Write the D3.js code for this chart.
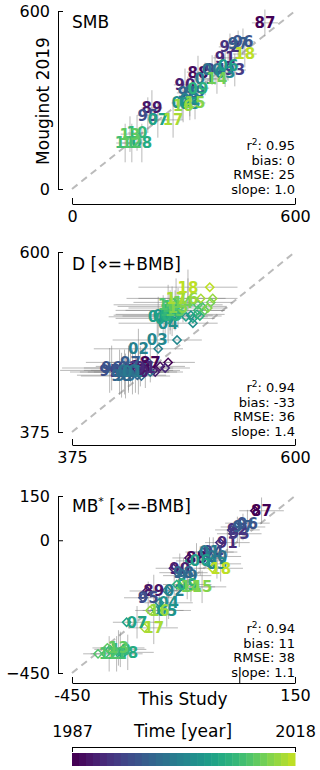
<!DOCTYPE html>
<html>
<head>
<meta charset="utf-8">
<script src="https://cdn.jsdelivr.net/npm/d3@7"></script>
<style>
body { margin: 0; background: #fff; }
svg { font-family: "DejaVu Sans", sans-serif; }
</style>
</head>
<body>
<div id="chart"></div>
<script>
// years shown as two-digit labels, coloured by time
var years = [1987, 1988, 1989, 1990, 1991, 1992, 1993, 1994, 1995, 1996, 1997,
        1998, 1999, 2000, 2001, 2002, 2003, 2004, 2005, 2006, 2007, 2008,
        2009, 2010, 2011, 2012, 2013, 2014, 2015, 2016, 2017, 2018];

// SMB: this study (x) vs Mouginot 2019 (y)
var smbX = [519, 339, 215, 304, 412, 425, 438, 385, 204, 460, 447, 312, 331, 377, 358, 317,
        412, 296, 317, 420, 231, 188, 339, 175, 143, 161, 156, 390, 331, 299, 272, 465];
var smbY = [560, 394, 273, 351, 442, 479, 401, 401, 249, 496, 489, 324, 327, 401, 371, 300,
        394, 290, 287, 415, 233, 155, 340, 189, 155, 155, 185, 371, 290, 280, 233, 455];
var smbXerr = [35, 30, 28, 30, 32, 30, 30, 30, 28, 32, 32, 30, 30, 30, 30, 28,
        30, 28, 28, 30, 26, 25, 30, 25, 24, 25, 25, 30, 28, 28, 27, 32];
var smbYerr = [45, 55, 60, 55, 50, 45, 55, 50, 60, 45, 45, 55, 55, 50, 55, 55,
        50, 55, 55, 50, 60, 65, 55, 60, 65, 65, 60, 50, 55, 55, 60, 45];

// D: discharge, diamonds offset by +BMB
var dX = [454, 444, 439, 442, 449, 423, 432, 428, 413, 415, 434, 425, 429, 432, 436, 442,
        461, 472, 467, 462, 469, 474, 476, 474, 476, 472, 479, 487, 482, 492, 480, 492];
var dY = [462, 457, 452, 450, 455, 450, 455, 450, 452, 455, 462, 446, 445, 452, 450, 479,
        490, 511, 521, 519, 517, 522, 520, 527, 532, 534, 527, 537, 530, 542, 542, 556];
var dBmb = [18, 20, 18, 17, 20, 15, 16, 15, 14, 15, 18, 16, 16, 18, 18, 20,
        20, 25, 28, 28, 28, 27, 28, 28, 30, 30, 30, 28, 30, 25, 25, 22];
var dXerr = [45, 45, 45, 45, 45, 50, 45, 45, 50, 50, 45, 45, 45, 45, 45, 45,
        45, 50, 50, 50, 50, 55, 50, 55, 55, 55, 50, 50, 50, 50, 50, 50];
var dYerr = [25, 25, 28, 28, 25, 28, 28, 28, 28, 28, 25, 28, 28, 28, 28, 25,
        25, 25, 25, 25, 25, 25, 25, 25, 25, 25, 25, 25, 25, 25, 25, 22];

// MB*: mass balance, diamonds offset by -BMB
var mbX = [60, -115, -230, -160, -32, -5, 0, -70, -245, 22, 10, -150, -140, -60, -80, -175,
        -60, -190, -195, -105, -275, -300, -140, -320, -330, -350, -325, -130, -100, -215, -230, -50];
var mbY = [100, -60, -172, -95, -8, 35, 22, -40, -195, 58, 45, -110, -120, -55, -40, -170,
        -80, -212, -238, -70, -278, -380, -150, -370, -385, -385, -365, -158, -158, -238, -297, -95];
var mbXerr = [60, 65, 65, 65, 60, 60, 60, 65, 65, 60, 60, 65, 65, 65, 65, 65,
        65, 65, 65, 65, 65, 70, 65, 70, 70, 70, 70, 65, 65, 65, 65, 60];
var mbYerr = [45, 50, 55, 50, 45, 45, 45, 50, 55, 45, 45, 50, 50, 50, 50, 50,
        50, 55, 55, 50, 55, 60, 50, 60, 60, 60, 60, 50, 55, 55, 55, 45];

var smbStats = ["0.95", "0", "25", "1.0"];
var dStats = ["0.94", "-33", "36", "1.4"];
var mbStats = ["0.94", "11", "38", "1.1"];

var W = 320, H = 770;
var LEFT = 72, RIGHT = 295, SPINE_X = 58;

var svg = d3.select("#chart").append("svg")
        .attr("width", W)
        .attr("height", H);

// colormap stops short of the bright yellow end, like the reference
var timeScale = d3.scaleLinear()
        .domain([years[0], years[years.length - 1]])
        .range([0, 0.9]);

function color(yr) {
        return d3.interpolateViridis(timeScale(yr));
}

function drawPanel(p) {

        var x = d3.scaleLinear().domain(p.dom).range([LEFT, RIGHT]);
        var y = d3.scaleLinear().domain(p.dom).range([p.bottom, p.top]);
        var g = svg.append("g");

        var pts = years.map(function(yr, i) {
                return {yr: yr, x: p.xs[i], y: p.ys[i], xe: p.xerr[i], ye: p.yerr[i],
                        b: p.bmb ? p.bmb[i] : 0};
        });

        // 1:1 line
        g.append("line")
                .attr("x1", x(p.dom[0])).attr("y1", y(p.dom[0]))
                .attr("x2", x(p.dom[1])).attr("y2", y(p.dom[1]))
                .style("stroke", "#bbb")
                .style("stroke-width", 2)
                .style("stroke-dasharray", "7,5");

        // error bars
        g.selectAll(".xerr").data(pts).enter().append("line")
                .attr("x1", (d) => x(d.x - d.xe)).attr("x2", (d) => x(d.x + d.xe))
                .attr("y1", (d) => y(d.y)).attr("y2", (d) => y(d.y))
                .style("stroke", "#808080").style("stroke-opacity", 0.55).style("stroke-width", 1);
        g.selectAll(".yerr").data(pts).enter().append("line")
                .attr("x1", (d) => x(d.x)).attr("x2", (d) => x(d.x))
                .attr("y1", (d) => y(d.y - d.ye)).attr("y2", (d) => y(d.y + d.ye))
                .style("stroke", "#808080").style("stroke-opacity", 0.55).style("stroke-width", 1);

        // BMB-shifted diamonds
        if (p.bmb) {
                g.selectAll(".dm").data(pts).enter().append("path")
                        .attr("d", d3.symbol(d3.symbolSquare, 34)())
                        .attr("transform", (d) => "translate(" + x(d.x + p.sign * d.b) + "," + y(d.y) + ") rotate(45)")
                        .style("fill", "none")
                        .style("stroke", (d) => color(d.yr))
                        .style("stroke-width", 1.5);
        }

        // year labels
        g.selectAll(".lbl").data(pts).enter().append("text")
                .attr("x", (d) => x(d.x))
                .attr("y", (d) => y(d.y))
                .attr("dy", "0.36em")
                .attr("text-anchor", "middle")
                .style("font-weight", "bold")
                .style("font-size", "15px")
                .style("fill", (d) => color(d.yr))
                .text((d) => String(d.yr).slice(2));

        // axes
        var ya = d3.axisLeft(y).tickValues(p.yticks).tickSize(-5).tickSizeOuter(0)
                .tickPadding(8).tickFormat(d3.format("d"));
        g.append("g")
                .attr("transform", "translate(" + SPINE_X + ",0)")
                .call(ya)
                .attr("font-size", 16)
                .attr("font-family", "DejaVu Sans");

        var xa = d3.axisBottom(x).tickValues(p.xticks).tickSize(-6).tickSizeOuter(0)
                .tickPadding(7).tickFormat(p.xfmt);
        g.append("g")
                .attr("transform", "translate(0," + p.xAxisY + ")")
                .call(xa)
                .attr("font-size", 16)
                .attr("font-family", "DejaVu Sans");

        // title
        var t = g.append("text")
                .attr("x", LEFT)
                .attr("y", p.titleY)
                .style("font-size", "17px");
        t.append("tspan").text(p.title[0]);
        if (p.title[1]) {
                t.append("tspan").attr("dy", -7).style("font-size", "11px").text(p.title[1]);
                t.append("tspan").attr("dy", 7).text(p.title[2]);
        } else {
                t.append("tspan").text(p.title[2]);
        }

        // stats
        var st = g.append("g").style("font-size", "13px").attr("text-anchor", "end");
        var r2 = st.append("text").attr("x", RIGHT).attr("y", p.statsY);
        r2.append("tspan").text("r");
        r2.append("tspan").attr("dy", -5).style("font-size", "9px").text("2");
        r2.append("tspan").attr("dy", 5).text(": " + p.stats[0]);
        st.append("text").attr("x", RIGHT).attr("y", p.statsY + 14.6).text("bias: " + p.stats[1]);
        st.append("text").attr("x", RIGHT).attr("y", p.statsY + 29.2).text("RMSE: " + p.stats[2]);
        st.append("text").attr("x", RIGHT).attr("y", p.statsY + 43.8).text("slope: " + p.stats[3]);
}

drawPanel({
        dom: [0, 600], top: 11, bottom: 189, xAxisY: 204,
        xs: smbX, ys: smbY, xerr: smbXerr, yerr: smbYerr,
        xticks: [0, 600], yticks: [0, 600], xfmt: d3.format("d"),
        title: ["SMB", "", ""], titleY: 28,
        stats: smbStats, statsY: 150
});

drawPanel({
        dom: [375, 600], top: 252, bottom: 432, xAxisY: 445,
        xs: dX, ys: dY, xerr: dXerr, yerr: dYerr, bmb: dBmb, sign: 1,
        xticks: [375, 600], yticks: [375, 600], xfmt: d3.format("d"),
        title: ["D [\u22c4=+BMB]", "", ""], titleY: 270,
        stats: dStats, statsY: 392
});

drawPanel({
        dom: [-450, 150], top: 496, bottom: 673, xAxisY: 683,
        xs: mbX, ys: mbY, xerr: mbXerr, yerr: mbYerr, bmb: dBmb, sign: -1,
        xticks: [-450, 0, 150], yticks: [-450, 0, 150],
        xfmt: function(v) { return v === 0 ? "" : String(v); },
        title: ["MB", "*", " [\u22c4=-BMB]"], titleY: 512,
        stats: mbStats, statsY: 633
});

// axis titles
svg.append("text")
        .attr("transform", "translate(49,101) rotate(-90)")
        .attr("text-anchor", "middle")
        .style("font-size", "17px")
        .text("Mouginot 2019");

svg.append("text")
        .attr("x", 183)
        .attr("y", 705)
        .attr("text-anchor", "middle")
        .style("font-size", "17px")
        .text("This Study");

// colorbar
var cx = d3.scaleLinear().domain([years[0], years[years.length - 1] + 1]).range([LEFT, RIGHT]);
svg.append("g").selectAll("rect").data(years).enter().append("rect")
        .attr("x", (d) => cx(d))
        .attr("y", 753)
        .attr("width", (d) => cx(d + 1) - cx(d) + 0.5)
        .attr("height", 13)
        .style("fill", (d) => color(d));

var ca = d3.axisTop(d3.scaleLinear().domain([years[0], years[years.length - 1]]).range([LEFT, RIGHT]))
        .tickValues([years[0], years[years.length - 1]])
        .tickSize(-5).tickSizeOuter(0).tickPadding(10)
        .tickFormat(d3.format("d"));
svg.append("g")
        .attr("transform", "translate(0,747)")
        .call(ca)
        .attr("font-size", 16)
        .attr("font-family", "DejaVu Sans");

svg.append("text")
        .attr("x", 183)
        .attr("y", 737)
        .attr("text-anchor", "middle")
        .style("font-size", "17px")
        .text("Time [year]");
</script>
</body>
</html>
